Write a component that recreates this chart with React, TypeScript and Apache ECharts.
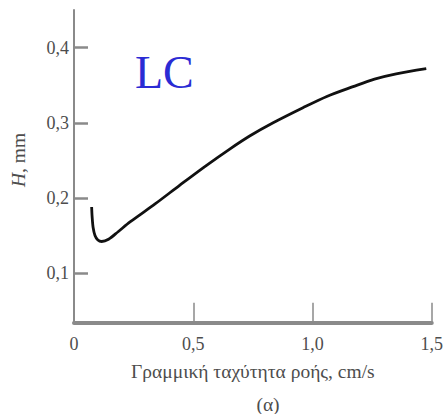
import React, { useEffect, useRef } from "react";
import * as echarts from "echarts";

// Linear flow velocity (cm/s) against plate height H (mm)
const flowRate = [0.074, 0.076, 0.08, 0.088, 0.1, 0.116, 0.145, 0.185, 0.235, 0.34, 0.444, 0.55, 0.653, 0.74, 0.835, 0.96, 1.06, 1.17, 1.26, 1.351, 1.477];
const plateHeight = [0.188, 0.175, 0.161, 0.15, 0.144, 0.142, 0.145, 0.155, 0.168, 0.192, 0.217, 0.242, 0.265, 0.283, 0.3, 0.32, 0.335, 0.348, 0.358, 0.365, 0.372];

const xTickValues = [0.5, 1.0, 1.5];
const xLabelValues = [0, 0.5, 1.0, 1.5];
const yTickValues = [0.1, 0.2, 0.3, 0.4];

const AXIS_GRAY = "#8a8a8a";
const TEXT_GRAY = "#4d4d4d";
const SERIF = "'Liberation Serif', 'DejaVu Serif', serif";

const commaDecimal = (v: number) => (v === 0 ? "0" : v.toFixed(1).replace(".", ","));

export default function App() {
  const ref = useRef<HTMLDivElement>(null);

  useEffect(() => {
    if (!ref.current) return;
    const chart = echarts.init(ref.current, null, { renderer: "svg" });
    chart.setOption({
      animation: false,
      backgroundColor: "#ffffff",
      grid: { left: 74, right: 13.5, top: 10, bottom: 91.3 },
      xAxis: {
        type: "value",
        min: 0,
        max: 1.5,
        name: "Γραμμική ταχύτητα ροής, cm/s",
        nameLocation: "middle",
        nameGap: 39,
        nameTextStyle: { fontFamily: SERIF, fontSize: 19.5, color: TEXT_GRAY },
        axisLine: { show: true, lineStyle: { color: AXIS_GRAY, width: 4 } },
        axisTick: {
          show: true,
          inside: true,
          length: 20,
          customValues: xTickValues,
          lineStyle: { color: AXIS_GRAY, width: 1.5 },
        },
        axisLabel: {
          customValues: xLabelValues,
          formatter: commaDecimal,
          fontFamily: SERIF,
          fontSize: 18,
          color: TEXT_GRAY,
          margin: 12,
        },
        splitLine: { show: false },
      },
      yAxis: {
        type: "value",
        min: 0.034,
        max: 0.45,
        axisLine: { show: true, lineStyle: { color: AXIS_GRAY, width: 2 } },
        axisTick: {
          show: true,
          inside: true,
          length: 14,
          customValues: yTickValues,
          lineStyle: { color: AXIS_GRAY, width: 2.5 },
        },
        axisLabel: {
          customValues: yTickValues,
          formatter: commaDecimal,
          fontFamily: SERIF,
          fontSize: 18,
          color: TEXT_GRAY,
          margin: 5,
        },
        splitLine: { show: false },
      },
      graphic: [
        {
          type: "text",
          left: 135,
          top: 49,
          style: { text: "LC", fontFamily: SERIF, fontSize: 46, fill: "#2b2bd4" },
        },
        {
          type: "text",
          x: 18,
          y: 160,
          rotation: Math.PI / 2,
          style: {
            text: "{i|H}, mm",
            rich: { i: { fontStyle: "italic", fontFamily: SERIF, fontSize: 19.5, fill: TEXT_GRAY } },
            fontFamily: SERIF,
            fontSize: 19.5,
            fill: TEXT_GRAY,
            align: "center",
            verticalAlign: "middle",
          },
        },
        {
          type: "text",
          x: 268,
          y: 404,
          style: {
            text: "(α)",
            fontFamily: SERIF,
            fontSize: 19.5,
            fill: TEXT_GRAY,
            align: "center",
            verticalAlign: "middle",
          },
        },
      ],
      series: [
        {
          type: "line",
          data: flowRate.map((x, i) => [x, plateHeight[i]]),
          smooth: 0.3,
          showSymbol: false,
          lineStyle: { color: "#111111", width: 2.8 },
        },
      ],
    });
    return () => chart.dispose();
  }, []);

  return (
    <div
      ref={ref}
      style={{ position: "fixed", left: 0, top: 0, width: 446, height: 414 }}
    />
  );
}
